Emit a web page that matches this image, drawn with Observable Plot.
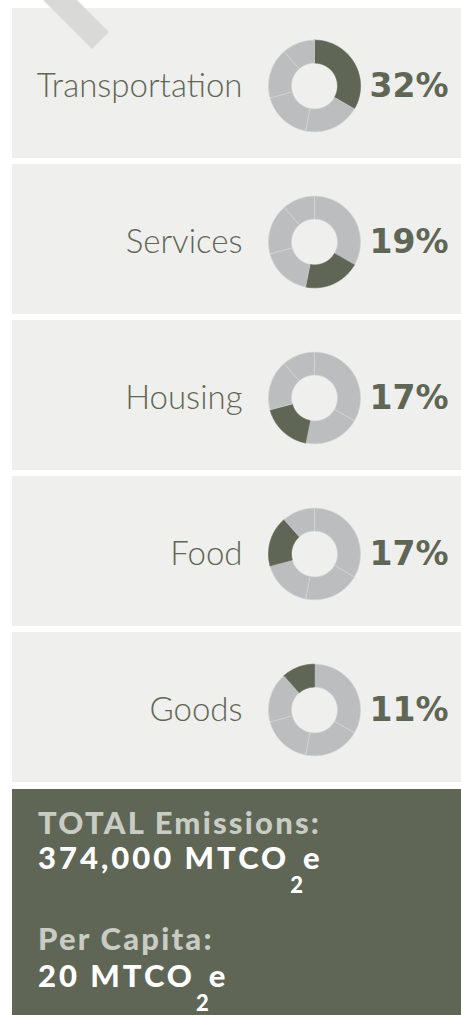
<!DOCTYPE html>
<html>
<head>
<meta charset="utf-8">
<script src="https://cdn.jsdelivr.net/npm/d3@7"></script>
<script src="https://cdn.jsdelivr.net/npm/@observablehq/plot@0.6"></script>
<style>
  html, body { margin: 0; padding: 0; background: #ffffff; width: 461px; height: 1015px; overflow: hidden; }
  #wrap { position: relative; width: 461px; height: 1015px; }
  #chart svg { display: block; }
  #stripe { position: absolute; left: 0; top: 0; width: 130px; height: 60px; background: #d9d9d8;
            clip-path: polygon(43px 0, 77px 0, 109px 32px, 92px 49px); }
  #total { position: absolute; left: 12px; top: 789px; width: 449px; height: 226px; background: #5f6655;
           font-family: Lato, sans-serif; font-weight: 900; }
  #total .line { position: absolute; left: 26px; font-size: 31px; line-height: 1.2; white-space: nowrap; }
  #total .lbl { color: #c9ccc5; letter-spacing: 2.2px; }
  #total .val { color: #ffffff; letter-spacing: 3px; }
  #total sub { font-size: 22px; vertical-align: -24px; line-height: 0; letter-spacing: 0; margin-left: 1px; margin-right: 0px; }
</style>
</head>
<body>
<div id="wrap">
  <div id="chart"></div>
  <div id="total"></div>
  <div id="stripe"></div>
</div>
<script>
// ---- data ----
const categories = ["Transportation", "Services", "Housing", "Food", "Goods"];
const shares = [32, 19, 17, 17, 11];
const totalLabel = "TOTAL Emissions:";
const totalValue = "374,000";
const perCapitaLabel = "Per Capita:";
const perCapitaValue = "20";
const unitPrefix = "MTCO";
const unitSub = "2";
const unitSuffix = "e";

// ---- style / layout ----
const DARK = "#5f6655";
const LIGHT = "#bcbdbf";
const PANEL = "#efefed";
const W = 461, H = 789, M = 6;
const padInner = 0.0385;
const step = (H - 2 * M) / (categories.length - padInner);
const B = step * (1 - padInner); // band height in px
const CX = 314, CY = 2.5, R_OUT = 46, R_IN = 23;

// donut segments: every panel shows all shares, highlighting its own category
const sum = d3.sum(shares);
const cum = d3.cumsum(shares);
const segs = [];
categories.forEach((panel, p) => {
  shares.forEach((v, i) => {
    const a0 = ((cum[i] - v) / sum) * 2 * Math.PI;
    const a1 = (cum[i] / sum) * 2 * Math.PI;
    const n = Math.max(2, Math.ceil((a1 - a0) / (Math.PI / 180)));
    const hi = i === p;
    const pts = [];
    for (let k = 0; k <= n; k++) { const a = a0 + (a1 - a0) * k / n; pts.push([R_OUT, a]); }
    for (let k = n; k >= 0; k--) { const a = a0 + (a1 - a0) * k / n; pts.push([R_IN, a]); }
    pts.push(pts[0]);
    pts.forEach(([r, a], j) => segs.push({
      panel, id: panel + "-" + i, order: j,
      x: CX + r * Math.sin(a), y: CY - r * Math.cos(a),
      fill: hi ? DARK : LIGHT, stroke: hi ? DARK : "#d3d4d5"
    }));
  });
});

const rows = categories.map((c, i) => ({ cat: c, share: shares[i] }));

const chart = Plot.plot({
  width: W, height: H,
  marginTop: M, marginBottom: M, marginLeft: 0, marginRight: 0,
  style: { background: "#ffffff", fontFamily: "Lato, sans-serif" },
  x: { domain: [0, W], range: [0, W], axis: null },
  y: { domain: [-B / 2, B / 2], reverse: true, axis: null },
  fy: { domain: categories, paddingInner: padInner, paddingOuter: 0, axis: null, label: null },
  color: { type: "identity" },
  marks: [
    Plot.rect(categories, { fy: d => d, x1: 12, x2: W, y1: -B / 2, y2: B / 2, fill: PANEL }),
    Plot.line(segs, { fy: "panel", x: "x", y: "y", z: "id", fill: "fill", stroke: "stroke",
                      strokeWidth: 0.7, curve: "linear" }),
    Plot.text(rows, { fy: "cat", x: 242, y: 13.5, text: "cat", textAnchor: "end", lineAnchor: "bottom",
                      fontSize: 33, fontWeight: 300, fill: DARK }),
    Plot.text(rows, { fy: "cat", x: 448, y: 13.5, text: d => d.share + "%", textAnchor: "end",
                      lineAnchor: "bottom", fontSize: 33, fontWeight: 700, fill: DARK,
                      fontFamily: "DejaVu Sans, sans-serif" })
  ]
});
document.getElementById("chart").appendChild(chart);

// summary box below the chart
const unit = `${unitPrefix}<sub>${unitSub}</sub>${unitSuffix}`;
const lines = [
  { cls: "lbl", html: totalLabel, top: 15.4 },
  { cls: "val", html: `${totalValue} ${unit}`, top: 50.4 },
  { cls: "lbl", html: perCapitaLabel, top: 131.4 },
  { cls: "val", html: `${perCapitaValue} ${unit}`, top: 168.4 }
];
const box = document.getElementById("total");
lines.forEach(l => {
  const d = document.createElement("div");
  d.className = "line " + l.cls;
  d.style.top = l.top + "px";
  d.innerHTML = l.html;
  box.appendChild(d);
});
</script>
</body>
</html>
